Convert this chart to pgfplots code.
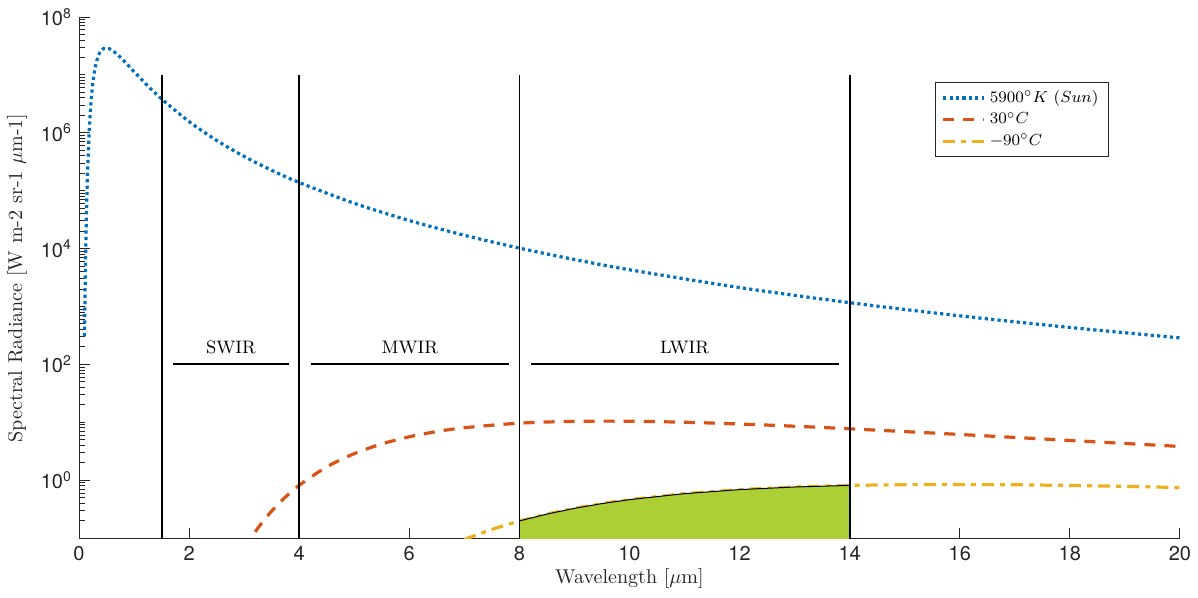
\documentclass[border=0pt]{standalone}
\usepackage{fontspec}
\setsansfont{TeX Gyre Heros}
\usepackage{pgfplots}
\pgfplotsset{compat=1.18}
\definecolor{mblue}{RGB}{0,114,189}
\definecolor{morange}{RGB}{217,83,25}
\definecolor{myellow}{RGB}{237,177,32}
\definecolor{mgreen}{RGB}{173,207,54}
\definecolor{axgray}{RGB}{38,38,38}

\begin{document}
\begin{tikzpicture}
\begin{axis}[
    scale only axis,
    width=19.30cm,
    height=9.15cm,
    ymode=log,
    xmin=0, xmax=20,
    ymin=0.0966, ymax=1e8,
    axis lines*=left,
    axis line style={axgray, line width=0.5pt},
    tick align=inside,
    every tick/.style={axgray, line width=0.5pt},
    major tick length=5.5pt,
    minor tick length=3pt,
    xtick={0,2,...,20},
    xticklabels={0,2,4,6,8,10,12,14,16,18,20},
    ytick={1,1e2,1e4,1e6,1e8},
    yticklabels={10\textsuperscript{0},10\textsuperscript{2},10\textsuperscript{4},10\textsuperscript{6},10\textsuperscript{8}},
    minor ytick={0.1,0.2,0.3,0.4,0.5,0.6,0.7,0.8,0.9,2,3,4,5,6,7,8,9,10,20,30,40,50,60,70,80,90,
        200,300,400,500,600,700,800,900,1000,2000,3000,4000,5000,6000,7000,8000,9000,
        2e4,3e4,4e4,5e4,6e4,7e4,8e4,9e4,1e5,2e5,3e5,4e5,5e5,6e5,7e5,8e5,9e5,
        2e6,3e6,4e6,5e6,6e6,7e6,8e6,9e6,1e7,2e7,3e7,4e7,5e7,6e7,7e7,8e7,9e7},
    ticklabel style={font=\sffamily, text=axgray},
    xlabel={Wavelength [$\mu$m]},
    ylabel={Spectral Radiance [W m-2 sr-1 $\mu$m-1]},
    label style={text=axgray},
    xlabel style={at={(axis description cs:0.5,-0.0765)}, anchor=center},
    ylabel style={at={(axis description cs:-0.0563,0.5)}, anchor=center},
    legend style={at={(0.9355,0.8756)}, anchor=north east, font=\footnotesize,
        draw=axgray, line width=0.5pt, inner xsep=3pt, inner ysep=2pt, row sep=-0.5pt},
    legend cell align=left,
    legend image code/.code={\draw[#1] (0cm,0cm) -- (0.72cm,0cm);},
]
% 5900 K (Sun)
\addplot[mblue, line width=1.6pt, dash pattern=on 1.6pt off 1.6pt, smooth] coordinates {
    (0.10,305.6) (0.11,1742) (0.12,7150) (0.13,22893) (0.14,60302) (0.15,136500)
    (0.16,272960) (0.17,494000) (0.18,823790) (0.19,1282700) (0.20,1885500)
    (0.21,2640200) (0.225,4056400) (0.25,7078900) (0.275,10670000) (0.30,14461000)
    (0.35,21383000) (0.40,26238000) (0.45,28727000) (0.50,29259000) (0.55,28427000)
    (0.60,26767000) (0.70,22439000) (0.80,18103000) (0.90,14384000) (1.00,11390000)
    (1.25,6467000) (1.50,3842300) (2.00,1560700) (2.50,738100) (3.00,390750)
    (3.50,225150) (4.00,138500) (5,60633) (6,30545) (7,17004) (8,10199)
    (9,6481.4) (10,4312.7) (12,2124.1) (14,1163.9) (16,689.9) (18,434.4) (20,287.0)
};
\addlegendentry{$5900^{\circ}K$ $(Sun)$}
% 30 C
\addplot[morange, line width=1.6pt, dash pattern=on 5.5pt off 4.5pt, smooth] coordinates {
    (3.00,0.06602) (3.25,0.14940) (3.50,0.29268) (3.75,0.51196) (4.00,0.81778)
    (4.50,1.6959) (5.00,2.8755) (5.50,4.2319) (6.00,5.6234) (6.50,6.9274)
    (7.00,8.0603) (8,9.6634) (9,10.392) (10,10.435) (11,10.023) (12,9.3486)
    (13,8.5526) (14,7.7249) (16,6.1665) (18,4.8608) (20,3.8252)
};
\addlegendentry{$30^{\circ}C$}
% -90 C
\addplot[myellow, line width=1.6pt, dash pattern=on 6pt off 3pt on 2.5pt off 3pt] coordinates {
    (7.0,0.094748) (7.5,0.14180) (8.0,0.19764) (8.5,0.26008) (9.0,0.32660)
    (9.5,0.39460) (10,0.46173) (11,0.58582) (12,0.68795) (13,0.76358)
    (14,0.81274) (15,0.83816) (16,0.84375) (17,0.83385) (18,0.81234)
    (19,0.78259) (20,0.74741)
};
\addlegendentry{$-90^{\circ}C$}
% LWIR band under the -90 C curve
\addplot[fill=mgreen, draw=none, forget plot] coordinates {
    (8.0,0.05) (8.0,0.19764) (8.5,0.26008) (9.0,0.32660) (9.5,0.39460)
    (10,0.46173) (11,0.58582) (12,0.68795) (13,0.76358) (14,0.81274) (14,0.05)
};
\addplot[black, line width=0.5pt, forget plot] coordinates {
    (8.0,0.19764) (8.5,0.26008) (9.0,0.32660) (9.5,0.39460)
    (10,0.46173) (11,0.58582) (12,0.68795) (13,0.76358) (14,0.81274)
};
% band limits
\addplot[black, line width=1pt, forget plot] coordinates {(1.5,0.05) (1.5,1e7)};
\addplot[black, line width=1pt, forget plot] coordinates {(4,0.05) (4,1e7)};
\addplot[black, line width=0.8pt, forget plot] coordinates {(8,0.05) (8,1e7)};
\addplot[black, line width=1pt, forget plot] coordinates {(14,0.05) (14,1e7)};
\addplot[black, line width=1pt, forget plot] coordinates {(1.71,100) (3.81,100)};
\addplot[black, line width=1pt, forget plot] coordinates {(4.21,100) (7.81,100)};
\addplot[black, line width=1pt, forget plot] coordinates {(8.21,100) (13.80,100)};
\node[font=\small] at (axis cs:2.76,195) {SWIR};
\node[font=\small] at (axis cs:6.01,195) {MWIR};
\node[font=\small] at (axis cs:11.0,195) {LWIR};
\end{axis}
\pgfresetboundingbox
\path (-1.385cm,-1.034cm) rectangle (19.616cm,9.448cm);
\end{tikzpicture}
\end{document}
